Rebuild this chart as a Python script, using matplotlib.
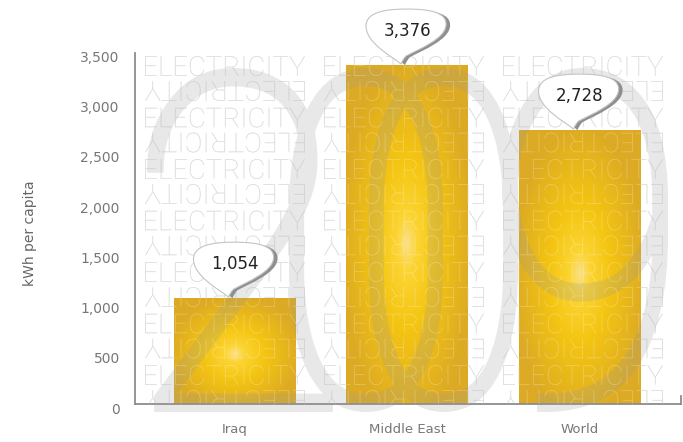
import matplotlib

matplotlib.use("Agg")

import matplotlib.pyplot as plt
import numpy as np
from matplotlib.backends.backend_agg import FigureCanvasAgg
from matplotlib.colors import LinearSegmentedColormap
from matplotlib.figure import Figure
from matplotlib.font_manager import FontProperties
from matplotlib.patches import PathPatch
from matplotlib.path import Path
from matplotlib.textpath import TextPath
from matplotlib.transforms import Affine2D, ScaledTranslation

regions = ["Iraq", "Middle East", "World"]
kwh_per_capita = [1054, 3376, 2728]
y_ticks = [0, 500, 1000, 1500, 2000, 2500, 3000, 3500]
watermark_word = "ELECTRICITY"
year_label = "2009"

W, H = 683, 442


def fitted_text(s, prop, width, height):
    """Text outline centred on the origin and stretched to width x height pixels."""
    tp = TextPath((0, 0), s, size=100, prop=prop)
    ext = tp.get_extents()
    tr = (Affine2D()
          .translate(-ext.x0 - ext.width / 2, -ext.y0 - ext.height / 2)
          .scale(width / ext.width, height / ext.height))
    return tr.transform_path(tp)


def coverage(path, stroke_px):
    """Rasterise a pixel-space path (filled and widened) to a 0..1 coverage mask."""
    scratch = Figure(figsize=(W / 100, H / 100), dpi=100)
    canvas = FigureCanvasAgg(scratch)
    scratch.add_artist(PathPatch(path, fc="black", ec="black", lw=stroke_px * 0.72,
                                 transform=Affine2D()))
    canvas.draw()
    rgba = np.asarray(canvas.buffer_rgba()).astype(float)
    return 1 - rgba[..., 0] / 255.0


fig = plt.figure(figsize=(W / 100, H / 100), dpi=100)
fig.patch.set_facecolor("white")
ax = fig.add_axes([135 / W, 1 - 404 / H, (681 - 135) / W, (404 - 52.6) / H])

x = np.arange(len(regions))
xlim, ylim = (-0.577, 2.588), (0, 3500)

# gold bars with a soft radial glow
gold = LinearSegmentedColormap.from_list(
    "gold",
    [(0.0, "#fbe08a"), (0.15, "#fcd534"), (0.45, "#f4c512"), (0.8, "#e5b41d"), (1.0, "#dcaa24")],
)
bars = ax.bar(x, kwh_per_capita, width=0.707, color="#e0b024", zorder=2)
gx, gy = np.meshgrid(np.linspace(-1, 1, 80), np.linspace(-1, 1, 160))
glow = np.sqrt(gx ** 2 + (gy + 0.05) ** 2)
for bar in bars:
    x0, w, h = bar.get_x(), bar.get_width(), bar.get_height()
    im = ax.imshow(glow, extent=(x0, x0 + w, 0, h), origin="lower", cmap=gold,
                   vmin=0, vmax=1.1, aspect="auto", interpolation="bilinear", zorder=2.1)
    im.set_clip_path(bar)

ax.set_xlim(*xlim)
ax.set_ylim(*ylim)

# repeated ELECTRICITY background, every other row turned upside down
light = FontProperties(family=["Roboto", "DejaVu Sans"], weight="light")
word = fitted_text(watermark_word, light, 160, 20)
for fc, alpha, z in (("#cccccc", 1.0, 1), ("white", 0.3, 4)):
    for cx in (225, 404, 583):
        for k in range(7):
            for cy, rot in ((66 + 51.5 * k, 0), (91 + 51.5 * k, 180)):
                tr = Affine2D().rotate_deg(rot).translate(cx, H - cy)
                ax.add_patch(PathPatch(word, transform=tr, fc=fc, ec="none",
                                       alpha=alpha, zorder=z))

# big translucent year behind the data, tall digits crowding into each other
digit_spans = [(150, 330), (292, 440), (372, 515), (505, 665)]
digit_paths = []
for ch, (left, right) in zip(year_label, digit_spans):
    glyph = fitted_text(ch, light, right - left, 338)
    digit_paths.append(Affine2D().translate((left + right) / 2, H - 240).transform_path(glyph))
mask = coverage(Path.make_compound_path(*digit_paths), 6)
year_rgba = np.zeros(mask.shape + (4,))
year_rgba[..., :3] = 154 / 255
year_rgba[..., 3] = mask * 0.23
inv = ax.transData.inverted()
(ex0, ey0), (ex1, ey1) = inv.transform([(0, 0), (W, H)])
ax.imshow(year_rgba, extent=(ex0, ex1, ey0, ey1), origin="upper", aspect="auto",
          interpolation="nearest", zorder=3, clip_on=False)
ax.set_xlim(*xlim)
ax.set_ylim(*ylim)

# speech bubble callouts, in pixels relative to the bar top
bubble_verts = [
    (-6, 1),
    (-14, 8), (-42, 22), (-41, 40),
    (-40, 53), (-22, 56), (0, 56),
    (22, 56), (40, 53), (39, 40),
    (38, 26), (12, 16), (-1, 9),
    (-3, 7), (-5, 4), (-6, 1),
    (-6, 1),
]
bubble_codes = [Path.MOVETO] + [Path.CURVE4] * 15 + [Path.CLOSEPOLY]
bubble = Path(bubble_verts, bubble_codes)

for xi, v in zip(x, kwh_per_capita):
    anchor = ScaledTranslation(xi, v, ax.transData)
    shadow = PathPatch(bubble, transform=Affine2D().translate(4, -1) + anchor,
                       fc="#8f8f8f", ec="none", zorder=5)
    body = PathPatch(bubble, transform=anchor, fc="white", ec="#c4c4c4", lw=0.8, zorder=6)
    for p in (shadow, body):
        ax.add_patch(p)
        p.set_clip_on(False)
    ax.annotate(f"{v:,}", (xi, v), xytext=(0, 34), textcoords="offset pixels",
                ha="center", va="center", fontsize=12, color="#222222",
                zorder=7, annotation_clip=False)

# axes styling
ax.set_xticks(x, regions)
ax.set_yticks(y_ticks, [f"{t:,}" for t in y_ticks])
ax.tick_params(axis="both", length=0, colors="#777777")
ax.tick_params(axis="x", pad=14, labelsize=9.5)
ax.tick_params(axis="y", pad=11, labelsize=10)
shift = ScaledTranslation(0, -0.04, fig.dpi_scale_trans)
for lab in ax.get_yticklabels():
    lab.set_transform(lab.get_transform() + shift)

ax.set_ylabel("kWh per capita", fontsize=10, color="#666666")
ax.yaxis.set_label_coords((37 - 135) / 546, (404 - 233) / 351.4)

ax.spines["top"].set_visible(False)
for side in ("left", "bottom", "right"):
    ax.spines[side].set_color("#8c8c8c")
    ax.spines[side].set_linewidth(1.3)
ax.spines["right"].set_bounds(0, 80)

fig.savefig("out.png", dpi=100)
